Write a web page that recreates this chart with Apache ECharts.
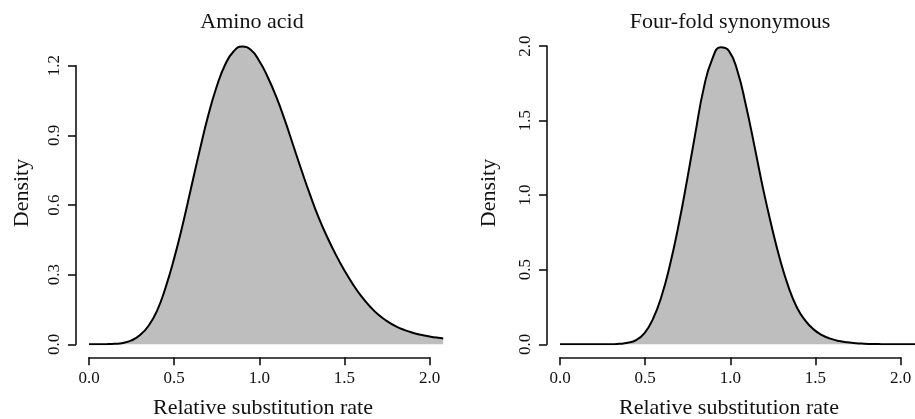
<!DOCTYPE html>
<html>
<head>
<meta charset="utf-8">
<script src="https://cdn.jsdelivr.net/npm/echarts@6/dist/echarts.min.js"></script>
<style>
  html, body { margin: 0; padding: 0; background: #fff; }
  #chart { width: 915px; height: 419px; }
</style>
</head>
<body>
<div id="chart"></div>
<script>
// density curves
const xAmino = [0, 0.05, 0.1, 0.15, 0.2, 0.25, 0.3, 0.35, 0.4, 0.45, 0.5, 0.55, 0.6, 0.65, 0.7, 0.75, 0.8, 0.85, 0.9,
  0.95, 1.0, 1.05, 1.1, 1.15, 1.2, 1.25, 1.3, 1.35, 1.4, 1.45, 1.5, 1.55, 1.6, 1.65, 1.7, 1.75, 1.8, 1.85, 1.9,
  1.95, 2.0, 2.05, 2.08];
const densAmino = [0, 0, 0.0005, 0.002, 0.006, 0.017, 0.04, 0.08, 0.145, 0.245, 0.37, 0.515, 0.675, 0.835, 0.985, 1.11,
  1.205, 1.262, 1.282, 1.268, 1.22, 1.15, 1.065, 0.965, 0.855, 0.745, 0.64, 0.543, 0.46, 0.385, 0.318, 0.258, 0.206,
  0.163, 0.127, 0.1, 0.078, 0.062, 0.05, 0.041, 0.034, 0.028, 0.025];

const xFour = [0, 0.05, 0.1, 0.15, 0.2, 0.25, 0.3, 0.35, 0.4, 0.45, 0.5, 0.55, 0.6, 0.65, 0.7, 0.75, 0.8, 0.85, 0.9,
  0.95, 1.0, 1.05, 1.1, 1.15, 1.2, 1.25, 1.3, 1.35, 1.4, 1.45, 1.5, 1.55, 1.6, 1.65, 1.7, 1.75, 1.8, 1.85, 1.9,
  1.95, 2.0, 2.05, 2.1];
const densFour = [0, 0, 0, 0, 0, 0, 0, 0.003, 0.01, 0.028, 0.075, 0.17, 0.32, 0.53, 0.79, 1.09, 1.41, 1.715, 1.91,
  1.99, 1.965, 1.83, 1.6, 1.33, 1.05, 0.8, 0.575, 0.39, 0.25, 0.16, 0.1, 0.062, 0.038, 0.022, 0.013, 0.007, 0.004,
  0.002, 0.001, 0.0005, 0, 0, 0];

const titles = ["Amino acid", "Four-fold synonymous"];

const FONT = '"Liberation Serif", "DejaVu Serif", serif';
const ink = "#111";

let pairs = (xs, ys) => xs.map((x, i) => [x, ys[i]]);

// visible axes (R style, pushed out from the plot region)
let axisX = (grid) => ({
  gridIndex: grid, type: "value", min: 0, max: 2, interval: 0.5, offset: 13,
  axisLine: { onZero: false, lineStyle: { color: ink, width: 1.6 } },
  axisTick: { length: 8, lineStyle: { color: ink, width: 1.6 } },
  axisLabel: { color: ink, fontFamily: FONT, fontSize: 17, margin: 13,
    formatter: (v) => v.toFixed(1) },
  splitLine: { show: false }
});
let axisY = (grid, max, step) => ({
  gridIndex: grid, type: "value", min: 0, max: max, interval: step, offset: 13,
  axisLine: { show: true, onZero: false, lineStyle: { color: ink, width: 1.6 } },
  axisTick: { show: true, length: 8, lineStyle: { color: ink, width: 1.6 } },
  axisLabel: { color: ink, fontFamily: FONT, fontSize: 17, margin: 13, rotate: 90,
    formatter: (v) => v.toFixed(1) },
  splitLine: { show: false }
});
// hidden axes carrying the data
let hidden = (grid, max) => ({ gridIndex: grid, type: "value", min: 0, max: max, show: false });

let curve = (idx, data) => ({
  type: "line", xAxisIndex: idx, yAxisIndex: idx, data: data,
  smooth: 0.5, showSymbol: false, silent: true,
  lineStyle: { color: "#000", width: 2 },
  areaStyle: { color: "#bebebe", opacity: 1 }
});

let label = (text, x, y, rot) => ({
  type: "text", x: x, y: y, rotation: rot || 0,
  style: { text: text, fill: ink, font: '22px ' + FONT, textAlign: "center", textVerticalAlign: "middle" }
});

const chart = echarts.init(document.getElementById("chart"));
chart.setOption({
  backgroundColor: "#fff",
  animation: false,
  grid: [
    { left: 89, top: 65.7, width: 340.6, height: 278.6 },
    { left: 89, top: 42.4, width: 354.2, height: 301.9 },
    { left: 560, top: 46, width: 340.6, height: 298.3 },
    { left: 560, top: 38.4, width: 357.6, height: 305.9 }
  ],
  xAxis: [axisX(0), hidden(1, 2.08), axisX(2), hidden(3, 2.1)],
  yAxis: [axisY(0, 1.2, 0.3), hidden(1, 1.3), axisY(2, 2, 0.5), hidden(3, 2.05)],
  series: [curve(1, pairs(xAmino, densAmino)), curve(3, pairs(xFour, densFour))],
  graphic: [
    label(titles[0], 252, 22),
    label(titles[1], 730, 22),
    label("Relative substitution rate", 263, 408),
    label("Relative substitution rate", 729, 408),
    label("Density", 22, 193, Math.PI / 2),
    label("Density", 489, 193, Math.PI / 2)
  ]
});
</script>
</body>
</html>
